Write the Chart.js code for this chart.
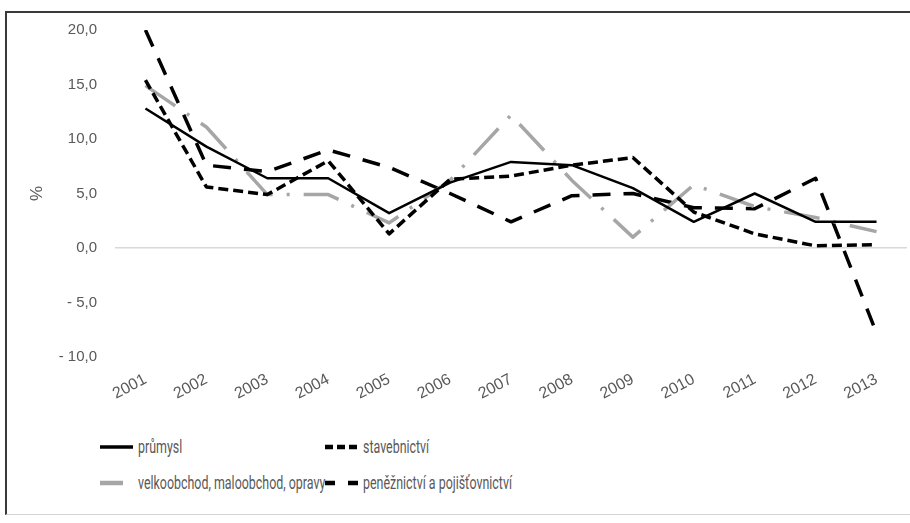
<!DOCTYPE html>
<html>
<head>
<meta charset="utf-8">
<script src="https://cdn.jsdelivr.net/npm/chart.js@4.4.0/dist/chart.umd.min.js"></script>
<style>
    html, body { margin: 0; padding: 0; background: #fff; }
    body { width: 910px; height: 523px; position: relative; overflow: hidden; }
    #frame {
        position: absolute; left: 5px; top: 11px; width: 920px; height: 501px;
        border-left: 2px solid #3a3a3a; border-top: 2px solid #3a3a3a; border-bottom: 1px solid #d4d4d4;
    }
    #wrap { position: absolute; left: 0; top: 0; width: 910px; height: 420px; }
    #legend { position: absolute; left: 100px; top: 429px; font-family: Roboto, "Liberation Sans", sans-serif; font-size: 17.5px; color: #595959; white-space: nowrap; }
    .row { display: flex; height: 36px; align-items: center; }
    .item { display: flex; align-items: center; }
    .item svg { margin-right: 5px; flex: none; }
    .item span { display: inline-block; transform: scaleX(0.71); transform-origin: left center; }
</style>
</head>
<body>
<div id="frame"></div>
<div id="wrap"><canvas id="chart"></canvas></div>
<div id="legend"></div>
<script>
// Data
const years = ['2001', '2002', '2003', '2004', '2005', '2006', '2007', '2008', '2009', '2010', '2011', '2012', '2013'];
const prumysl = [12.8, 9.3, 6.4, 6.4, 3.2, 6.0, 7.9, 7.6, 5.5, 2.4, 5.0, 2.4, 2.4];
const stavebnictvi = [15.4, 5.6, 4.9, 8.0, 1.3, 6.3, 6.6, 7.6, 8.3, 3.3, 1.3, 0.2, 0.3];
const obchod = [14.9, 11.1, 4.9, 4.9, 2.3, 6.2, 12.2, 6.2, 1.0, 5.8, 3.8, 2.8, 1.5];
const penezni = [20.0, 7.6, 7.0, 9.0, 7.4, 5.0, 2.4, 4.8, 5.0, 3.7, 3.6, 6.4, -7.8];
const yTicks = [-10, -5, 0, 5, 10, 15, 20];

const TEXT = '#595959';
const FONT = '"Liberation Sans", Arial, sans-serif';

function fmt(v) {
    const s = Math.abs(v).toFixed(1).replace('.', ',');
    return v < 0 ? '- ' + s : s;
}

const series = [
    { label: 'průmysl', data: prumysl, color: '#000000', width: 2.5, dash: [], legendDash: '' },
    { label: 'stavebnictví', data: stavebnictvi, color: '#000000', width: 3.5, dash: [10, 5], legendDash: '8 4' },
    { label: 'velkoobchod, maloobchod, opravy', data: obchod, color: '#a6a6a6', width: 3.5, dash: [36, 14, 3, 14], legendDash: '23 40' },
    { label: 'peněžnictví a pojišťovnictví', data: penezni, color: '#000000', width: 3.5, dash: [18, 13], legendDash: '10 13' },
];

const chart = new Chart(document.getElementById('chart'), {
    type: 'line',
    data: {
        labels: years,
        datasets: series.map(s => ({
            label: s.label,
            data: s.data,
            borderColor: s.color,
            backgroundColor: s.color,
            borderWidth: s.width,
            borderDash: s.dash,
            borderCapStyle: 'butt',
            borderJoinStyle: 'round',
            pointRadius: 0,
            tension: 0,
            fill: false,
        }))
    },
    options: {
        responsive: true,
        maintainAspectRatio: false,
        animation: false,
        layout: { padding: { left: 20, top: 30, right: 3, bottom: 0 } },
        plugins: {
            legend: { display: false },
            tooltip: { enabled: false }
        },
        scales: {
            x: {
                offset: true,
                grid: { display: false },
                border: { display: false },
                ticks: {
                    color: TEXT,
                    font: { family: FONT, size: 16 },
                    minRotation: 28,
                    maxRotation: 28,
                    autoSkip: false,
                    padding: 5
                },
                afterFit: function (scale) { scale.height = 63; }
            },
            y: {
                min: -10,
                max: 20,
                afterBuildTicks: function (scale) {
                    scale.ticks = yTicks.map(v => ({ value: v }));
                },
                border: { display: false },
                grid: {
                    drawTicks: false,
                    lineWidth: 1.5,
                    color: function (ctx) {
                        return ctx.tick && ctx.tick.value === 0 ? '#d9d9d9' : 'rgba(0,0,0,0)';
                    }
                },
                ticks: {
                    color: TEXT,
                    font: { family: FONT, size: 15 },
                    padding: 18,
                    callback: function (value) { return fmt(value); }
                },
                title: {
                    display: true,
                    text: '%',
                    color: TEXT,
                    font: { family: FONT, size: 17 },
                    padding: { top: 7, bottom: 0 }
                },
                afterFit: function (scale) { scale.width = 95; }
            }
        }
    }
});

// Legenda (dva sloupce jako v originálu)
const legend = document.getElementById('legend');
const colWidth = 225;
for (let r = 0; r < 2; r++) {
    const row = document.createElement('div');
    row.className = 'row';
    for (let c = 0; c < 2; c++) {
        const s = series[r * 2 + c];
        const item = document.createElement('div');
        item.className = 'item';
        if (c === 0) item.style.width = colWidth + 'px';
        item.innerHTML =
            '<svg width="33" height="8"><line x1="0" y1="4" x2="33" y2="4" stroke="' + s.color +
            '" stroke-width="' + (s.width + 1) + '" stroke-dasharray="' + s.legendDash + '"/></svg>' +
            '<span>' + s.label + '</span>';
        row.appendChild(item);
    }
    legend.appendChild(row);
}
</script>
</body>
</html>
